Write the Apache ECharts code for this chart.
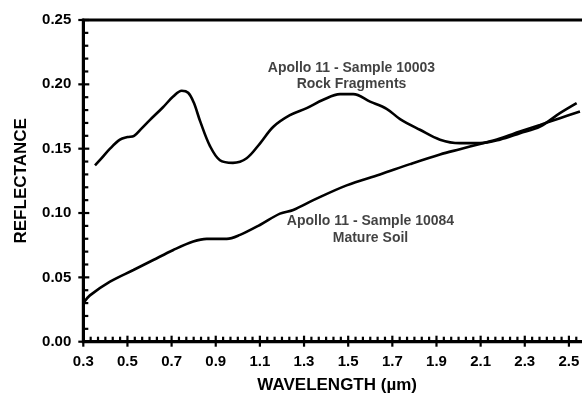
<!DOCTYPE html>
<html><head><meta charset="utf-8">
<script src="https://cdn.jsdelivr.net/npm/echarts@6/dist/echarts.min.js"></script>
<style>html,body{margin:0;padding:0;background:#fff}#c{width:582px;height:398px}</style>
</head><body><div id="c"></div>
<script>
const rockWavelength = [0.353,0.38,0.421,0.466,0.50,0.53,0.56,0.60,0.66,0.707,0.746,0.775,0.80,0.83,0.874,0.919,0.978,1.04,1.10,1.161,1.236,1.312,1.387,1.463,1.523,1.599,1.674,1.735,1.825,1.916,2.006,2.097,2.187,2.278,2.369,2.459,2.535];
const rockReflectance = [0.137,0.142,0.150,0.157,0.159,0.160,0.165,0.172,0.182,0.1905,0.195,0.1935,0.186,0.171,0.152,0.141,0.139,0.1426,0.154,0.167,0.176,0.1815,0.188,0.1924,0.1924,0.1866,0.181,0.173,0.1647,0.157,0.1543,0.1543,0.157,0.162,0.1672,0.1776,0.1854];
const soilWavelength = [0.305,0.33,0.421,0.527,0.617,0.708,0.798,0.859,0.950,1.010,1.100,1.191,1.251,1.342,1.493,1.644,1.78,1.916,2.006,2.097,2.187,2.278,2.369,2.459,2.55];
const soilReflectance = [0.031,0.036,0.0467,0.0557,0.0635,0.0713,0.0778,0.0799,0.0799,0.083,0.0907,0.0995,0.1024,0.110,0.1215,0.130,0.138,0.1455,0.1496,0.1537,0.158,0.1633,0.1685,0.1737,0.1789];
const xTickValues = [0.3,0.5,0.7,0.9,1.1,1.3,1.5,1.7,1.9,2.1,2.3,2.5];
const xTickLabels = ['0.3','0.5','0.7','0.9','1.1','1.3','1.5','1.7','1.9','2.1','2.3','2.5'];
const yTickValues = [0,0.05,0.10,0.15,0.20,0.25];
const yTickLabels = ['0.00','0.05','0.10','0.15','0.20','0.25'];
const annotationX = [1.515,1.601];
const annotationY = [0.2062,0.0871];
const annotationText = ['Apollo 11 - Sample 10003\nRock Fragments','Apollo 11 - Sample 10084\nMature Soil'];

const X_MIN = 0.3, X_MAX = 2.6, Y_MIN = 0, Y_MAX = 0.25;
const FONT = '"Liberation Sans", Arial, Helvetica, sans-serif';
function lookup(vals, labels){
  return function(v){
    for (let i=0;i<vals.length;i++){ if (Math.abs(vals[i]-v) < 1e-6) return labels[i]; }
    return '';
  };
}
// tick marks: [value, kind] kind 0 = x major, 1 = x minor, 2 = y major, 3 = y minor
const tickMarks = [];
xTickValues.forEach(v => {
  tickMarks.push([v, 0]);
  for (let k = 1; k < 6; k++) { const m = v + k * 0.2 / 6; if (m < X_MAX) tickMarks.push([m, 1]); }
});
yTickValues.forEach(v => {
  tickMarks.push([v, 2]);
  for (let k = 1; k < 5; k++) { const m = v + k * 0.01; if (m < Y_MAX - 1e-9) tickMarks.push([m, 3]); }
});

const chart = echarts.init(document.getElementById('c'));
chart.setOption({
  animation:false,
  backgroundColor:'#fff',
  grid:{left:83.3, top:20, right:-9, bottom:56.3, outerBoundsMode:'none', show:true, borderColor:'#000', borderWidth:3},
  xAxis:{type:'value', min:X_MIN, max:X_MAX, interval:0.2,
    name:'WAVELENGTH (\u00b5m)', nameLocation:'middle', nameGap:35,
    nameTextStyle:{fontFamily:FONT, fontWeight:'bold', fontSize:17, color:'#000'},
    axisLine:{show:true, lineStyle:{color:'#000', width:3}},
    axisTick:{show:false},
    axisLabel:{margin:13, fontFamily:FONT, fontWeight:'bold', fontSize:15, color:'#000', formatter:lookup(xTickValues,xTickLabels)},
    splitLine:{show:false}
  },
  yAxis:{type:'value', min:Y_MIN, max:Y_MAX, interval:0.05,
    name:'REFLECTANCE', nameLocation:'middle', nameGap:53, nameRotate:90,
    nameTextStyle:{fontFamily:FONT, fontWeight:'bold', fontSize:17, color:'#000'},
    axisLine:{show:true, lineStyle:{color:'#000', width:3}},
    axisTick:{show:false},
    axisLabel:{margin:12, fontFamily:FONT, fontWeight:'bold', fontSize:15, color:'#000', formatter:lookup(yTickValues,yTickLabels)},
    splitLine:{show:false}
  },
  series:[
    {type:'line', symbol:'none', smooth:0.35,
     lineStyle:{color:'#000', width:2.6}, data:rockWavelength.map((w,i)=>[w,rockReflectance[i]])},
    {type:'line', symbol:'none', smooth:0.35,
     lineStyle:{color:'#000', width:2.6}, data:soilWavelength.map((w,i)=>[w,soilReflectance[i]])},
    {type:'scatter', symbolSize:0, silent:true,
     data:annotationX.map((x,i)=>[x,annotationY[i]]),
     label:{show:true, position:[0,0], align:'center', verticalAlign:'middle',
       formatter:p=>annotationText[p.dataIndex], fontFamily:FONT, fontWeight:'bold', fontSize:14, lineHeight:16.5, color:'#111'}},
    {type:'custom', silent:true, clip:false, z:5,
     data:tickMarks,
     renderItem:function(params, api){
       const v = api.value(0), kind = api.value(1);
       let x1, y1, x2, y2;
       if (kind === 0 || kind === 1) {
         const p = api.coord([v, Y_MIN]);
         x1 = x2 = p[0];
         y1 = kind === 0 ? p[1] + 5 : p[1];
         y2 = kind === 0 ? p[1] - 6 : p[1] - 5;
       } else {
         const p = api.coord([X_MIN, v]);
         y1 = y2 = p[1];
         x1 = kind === 2 ? p[0] - 5 : p[0];
         x2 = kind === 2 ? p[0] + 6 : p[0] + 5;
       }
       return {type:'line', shape:{x1:x1, y1:y1, x2:x2, y2:y2}, style:{stroke:'#000', lineWidth:2.2}};
     }}
  ]
});
</script></body></html>
